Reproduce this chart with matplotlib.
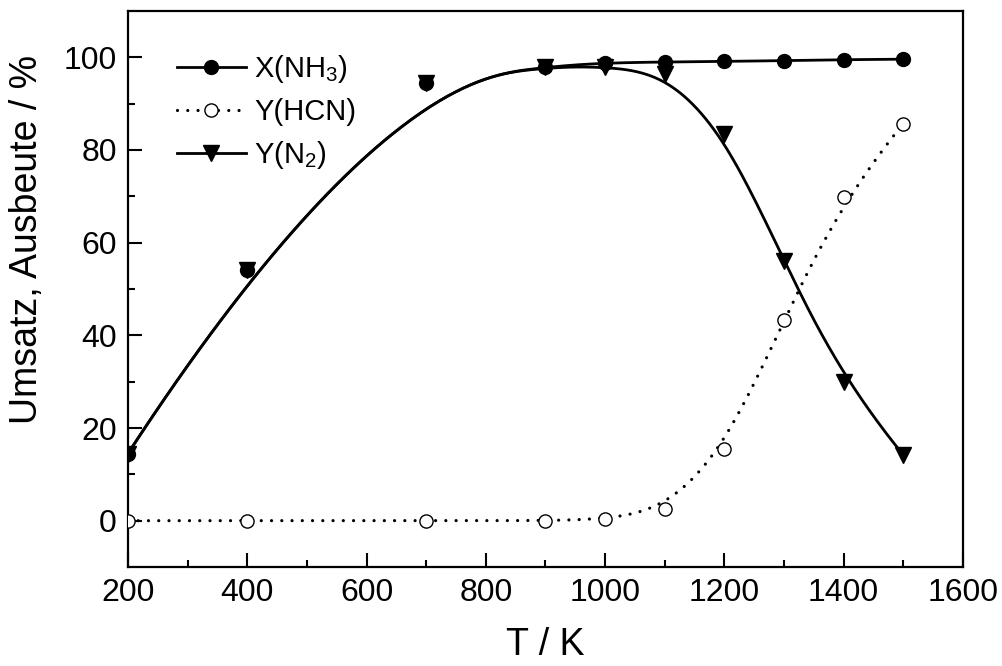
"""
Umsatz / Ausbeute vs. Temperatur (NH3-Umsatz, HCN- und N2-Ausbeute)
Kurven als kubische B-Splines durch die Messpunkte (wie Origin "B-Spline").
"""
import numpy as np
import matplotlib
matplotlib.use("Agg")
import matplotlib.pyplot as plt

# --- Daten ---
T = [200, 400, 700, 900, 1000, 1100, 1200, 1300, 1400, 1500]
X_NH3 = [14.5, 54.0, 94.5, 98.0, 98.8, 99.0, 99.1, 99.3, 99.5, 99.6]
Y_HCN = [0.0, 0.0, 0.0, 0.0, 0.3, 2.5, 15.5, 43.3, 69.8, 85.7]
Y_N2 = [14.5, 54.0, 94.5, 98.0, 98.0, 96.5, 83.5, 56.0, 30.0, 14.2]

labels = ["X(NH$_3$)", "Y(HCN)", "Y(N$_2$)"]
xticks = [200, 400, 600, 800, 1000, 1200, 1400, 1600]
yticks = [0, 20, 40, 60, 80, 100]


def bspline(x, y, k=3, n=400):
    """clamped kubischer B-Spline mit den Messpunkten als Kontrollpunkten"""
    P = np.column_stack([x, y]).astype(float)
    m = len(P)
    inner = np.arange(1, m - k)
    t = np.concatenate([np.zeros(k + 1), inner, np.full(k + 1, m - k)]).astype(float)
    u = np.linspace(0, m - k, n)
    u[-1] -= 1e-9

    def basis(i, p, u):
        if p == 0:
            return ((t[i] <= u) & (u < t[i + 1])).astype(float)
        a = np.zeros_like(u); b = np.zeros_like(u)
        if t[i + p] > t[i]:
            a = (u - t[i]) / (t[i + p] - t[i]) * basis(i, p - 1, u)
        if t[i + p + 1] > t[i + 1]:
            b = (t[i + p + 1] - u) / (t[i + p + 1] - t[i + 1]) * basis(i + 1, p - 1, u)
        return a + b

    N = np.array([basis(i, k, u) for i in range(m)])
    C = N.T @ P
    return C[:, 0], C[:, 1]


plt.rcParams["font.family"] = ["Liberation Sans", "DejaVu Sans"]
plt.rcParams["mathtext.fontset"] = "custom"
plt.rcParams["mathtext.rm"] = "Liberation Sans"
plt.rcParams["mathtext.default"] = "regular"

fig = plt.figure(figsize=(10.02, 6.66), dpi=100)
ax = fig.add_axes([0.1277, 0.1486, 0.8333, 0.8349])

lw = 2.0
dot = (0, (0.01, 3.2))

# Kurven
cx, cy = bspline(T, X_NH3)
ax.plot(cx, cy, color="black", lw=lw, zorder=2)
cx, cy = bspline(T, Y_HCN)
ax.plot(cx, cy, color="black", lw=2.3, ls=dot, dash_capstyle="round", zorder=2)
cx, cy = bspline(T, Y_N2)
ax.plot(cx, cy, color="black", lw=lw, zorder=2)

# Messpunkte
ax.plot(T, X_NH3, ls="none", marker="o", ms=10, mfc="black", mec="black", zorder=3)
ax.plot(T, Y_HCN, ls="none", marker="o", ms=9.5, mfc="white", mec="black", mew=1.0, zorder=3)
ax.plot(T, Y_N2, ls="none", marker="v", ms=11, mfc="black", mec="black", zorder=4)

# Legenden-Handles (Linie + Marker)
h1, = ax.plot([], [], color="black", lw=lw, marker="o", ms=10)
h2, = ax.plot([], [], color="black", lw=2.3, ls=dot, dash_capstyle="round",
              marker="o", ms=9.5, mfc="white", mew=1.0)
h3, = ax.plot([], [], color="black", lw=lw, marker="v", ms=11)
ax.legend([h1, h2, h3], labels, loc="upper left", bbox_to_anchor=(0.045, 0.945),
          frameon=False, fontsize=21, handlelength=2.35, handletextpad=0.3,
          labelspacing=0.45, borderaxespad=0.0)

ax.set_xlim(200, 1600)
ax.set_ylim(-10, 110)
ax.set_xticks(xticks)
ax.set_yticks(yticks)
ax.set_xticks(np.arange(300, 1600, 200), minor=True)
ax.set_yticks(np.arange(10, 110, 20), minor=True)
ax.tick_params(which="both", direction="in", width=1.5, labelsize=23,
               top=False, right=False)
ax.tick_params(which="major", length=10)
ax.tick_params(which="minor", length=5)
ax.tick_params(axis="x", pad=8)
ax.tick_params(axis="y", pad=8)
for s in ax.spines.values():
    s.set_linewidth(1.6)

ax.set_xlabel("T / K", fontsize=27)
ax.set_ylabel("Umsatz, Ausbeute / %", fontsize=27)
ax.xaxis.set_label_coords(0.5, -0.108)
ax.yaxis.set_label_coords(-0.099, 0.59)

fig.savefig("out.png", dpi=100)
